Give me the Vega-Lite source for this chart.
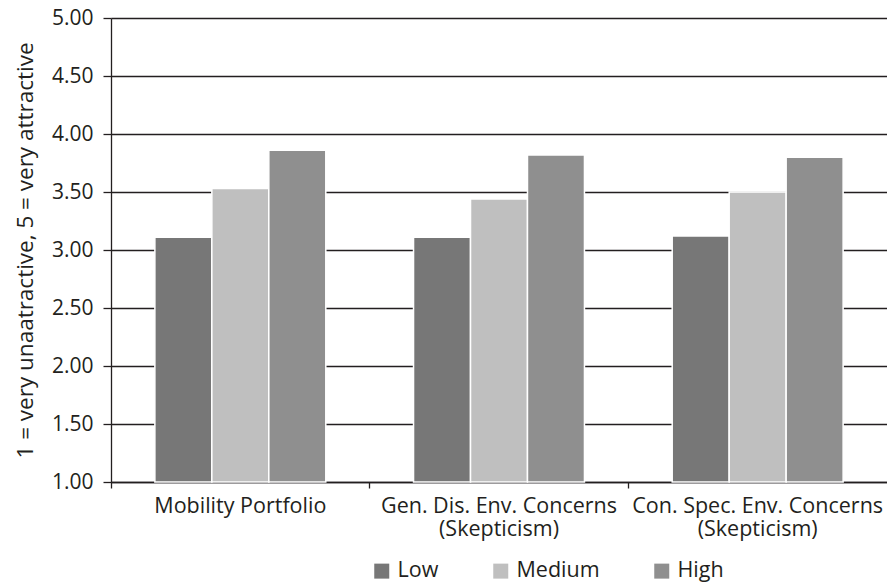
{
  "$schema": "https://vega.github.io/schema/vega-lite/v6.json",
  "width": 776,
  "height": 464,
  "autosize": {"type": "none"},
  "padding": {"left": 111, "top": 18, "right": 0, "bottom": 101},
  "background": "white",
  "config": {"view": {"stroke": null}, "font": "Open Sans"},
  "data": {
    "values": [
      {"construct": "Mobility Portfolio", "level": "Low", "value": 3.11},
      {"construct": "Mobility Portfolio", "level": "Medium", "value": 3.53},
      {"construct": "Mobility Portfolio", "level": "High", "value": 3.86},
      {"construct": "Gen. Dis. Env. Concerns (Skepticism)", "level": "Low", "value": 3.11},
      {"construct": "Gen. Dis. Env. Concerns (Skepticism)", "level": "Medium", "value": 3.44},
      {"construct": "Gen. Dis. Env. Concerns (Skepticism)", "level": "High", "value": 3.82},
      {"construct": "Con. Spec. Env. Concerns (Skepticism)", "level": "Low", "value": 3.12},
      {"construct": "Con. Spec. Env. Concerns (Skepticism)", "level": "Medium", "value": 3.50},
      {"construct": "Con. Spec. Env. Concerns (Skepticism)", "level": "High", "value": 3.80}
    ]
  },
  "mark": {"type": "bar", "stroke": "white", "strokeWidth": 1.5},
  "encoding": {
    "x": {
      "field": "construct",
      "type": "nominal",
      "sort": ["Mobility Portfolio", "Gen. Dis. Env. Concerns (Skepticism)", "Con. Spec. Env. Concerns (Skepticism)"],
      "scale": {"paddingInner": 0, "paddingOuter": 0},
      "axis": {
        "title": null,
        "labelAngle": 0,
        "bandPosition": 0,
        "ticks": true,
        "tickSize": 6,
        "tickColor": "#231f20",
        "tickWidth": 1.3,
        "domainColor": "#231f20",
        "domainWidth": 1.3,
        "labelFontSize": 21.5,
        "labelColor": "#231f20",
        "labelPadding": 7,
        "labelLineHeight": 23,
        "labelLimit": 0,
        "labelExpr": "indexof(datum.label, ' (') > 0 ? [slice(datum.label, 0, indexof(datum.label, ' (')), slice(datum.label, indexof(datum.label, ' (') + 1)] : datum.label"
      }
    },
    "xOffset": {
      "field": "level",
      "sort": ["Low", "Medium", "High"],
      "scale": {"paddingInner": 0, "paddingOuter": 0.77}
    },
    "y": {
      "field": "value",
      "type": "quantitative",
      "scale": {"domain": [1, 5], "zero": false},
      "axis": {
        "title": "1 = very unaatractive, 5 = very attractive",
        "values": [1, 1.5, 2, 2.5, 3, 3.5, 4, 4.5, 5],
        "format": ".2f",
        "grid": true,
        "gridColor": "#231f20",
        "gridWidth": 1.3,
        "gridOpacity": 1,
        "tickColor": "#231f20",
        "tickWidth": 1.3,
        "tickSize": 8,
        "domainColor": "#231f20",
        "domainWidth": 1.3,
        "labelFontSize": 21,
        "labelColor": "#231f20",
        "labelPadding": 10,
        "titleFontSize": 22.5,
        "titleFontWeight": "normal",
        "titleColor": "#231f20",
        "titlePadding": 14
      }
    },
    "y2": {"datum": 1},
    "color": {
      "field": "level",
      "type": "nominal",
      "sort": ["Low", "Medium", "High"],
      "scale": {"domain": ["Low", "Medium", "High"], "range": ["#777777", "#bfbfbf", "#8f8f8f"]},
      "legend": {
        "title": null,
        "orient": "none",
        "legendX": 260,
        "legendY": 542,
        "direction": "horizontal",
        "symbolType": "square",
        "symbolSize": 225,
        "symbolStrokeWidth": 0,
        "symbolOpacity": 1,
        "labelFontSize": 21.5,
        "labelColor": "#231f20",
        "labelOffset": 5,
        "columnPadding": 51,
        "gridAlign": "each"
      }
    }
  }
}
